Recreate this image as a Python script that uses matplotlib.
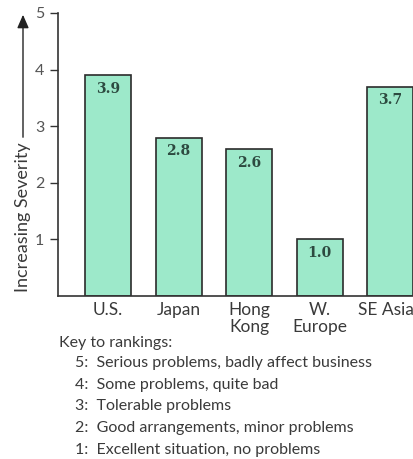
import matplotlib
matplotlib.use("Agg")
import matplotlib.pyplot as plt
from matplotlib.transforms import ScaledTranslation

regions = ["U.S.", "Japan", "Hong\nKong", "W.\nEurope", "SE Asia"]
severity = [3.9, 2.8, 2.6, 1.0, 3.7]
yticks = [1, 2, 3, 4, 5]
key_title = "Key to rankings:"
key_lines = [
    "5:  Serious problems, badly affect business",
    "4:  Some problems, quite bad",
    "3:  Tolerable problems",
    "2:  Good arrangements, minor problems",
    "1:  Excellent situation, no problems",
]

W, H = 414, 459
fig = plt.figure(figsize=(W / 100, H / 100), dpi=100)
fig.patch.set_facecolor("white")

font = "Lato"
txt_color = "#3a3a3a"

# axes: y-axis at x=58px, baseline at y=296px, value 5 at y=13px
ax = fig.add_axes([58 / W, (H - 296) / H, 1 - 58 / W, (296 - 13) / H])
xs = list(range(len(regions)))
ax.bar(xs, severity, width=0.65, color="#9de9ca", edgecolor="#2b2b2b",
       linewidth=1.2, zorder=2)
for x, v in zip(xs, severity):
    ax.text(x, v - 0.12, f"{v:.1f}", ha="center", va="top",
            fontsize=10, fontweight="bold", family="DejaVu Serif",
            color="#2d4a40", zorder=3)

ax.set_xlim(-0.708, 4.334)
ax.set_ylim(0, 5)
ax.set_yticks(yticks)
ax.set_yticklabels([str(t) for t in yticks], family=font, fontsize=11.5,
                   color="#555555")
ax.set_xticks(xs)
ax.set_xticklabels(regions, family=font, fontsize=12.5, color=txt_color,
                   linespacing=1.1, va="top")
ax.tick_params(axis="x", length=0, pad=4)
ax.tick_params(axis="y", direction="out", length=6, width=1.0,
               color="#333333", pad=4)
# nudge the last label so it stays inside the figure edge
last = ax.get_xticklabels()[-1]
last.set_transform(last.get_transform()
                   + ScaledTranslation(-4 / 100, 0, fig.dpi_scale_trans))
for side in ("top", "right"):
    ax.spines[side].set_visible(False)
for side in ("left", "bottom"):
    ax.spines[side].set_color("#333333")
    ax.spines[side].set_linewidth(1.2)
ax.set_facecolor("white")

# rotated label with upward arrow
fig.text(23 / W, 1 - 217 / H, "Increasing Severity", rotation=90,
         ha="center", va="center", family=font, fontsize=13, color=txt_color)
fig.add_artist(matplotlib.patches.FancyArrowPatch(
    (23 / W, 1 - 140 / H), (23 / W, 1 - 12 / H),
    transform=fig.transFigure, arrowstyle="-|>,head_length=8,head_width=3.5",
    color="#222222", linewidth=1.0, mutation_scale=1))

# key to rankings
fig.text(59 / W, 1 - 343 / H, key_title, ha="left", va="center",
         family=font, fontsize=11.5, color=txt_color)
for i, line in enumerate(key_lines):
    y = 363 + i * 21.7
    fig.text(75 / W, 1 - y / H, line, ha="left", va="center",
             family=font, fontsize=11.5, color=txt_color)

fig.savefig("out.png", dpi=100, facecolor="white")
